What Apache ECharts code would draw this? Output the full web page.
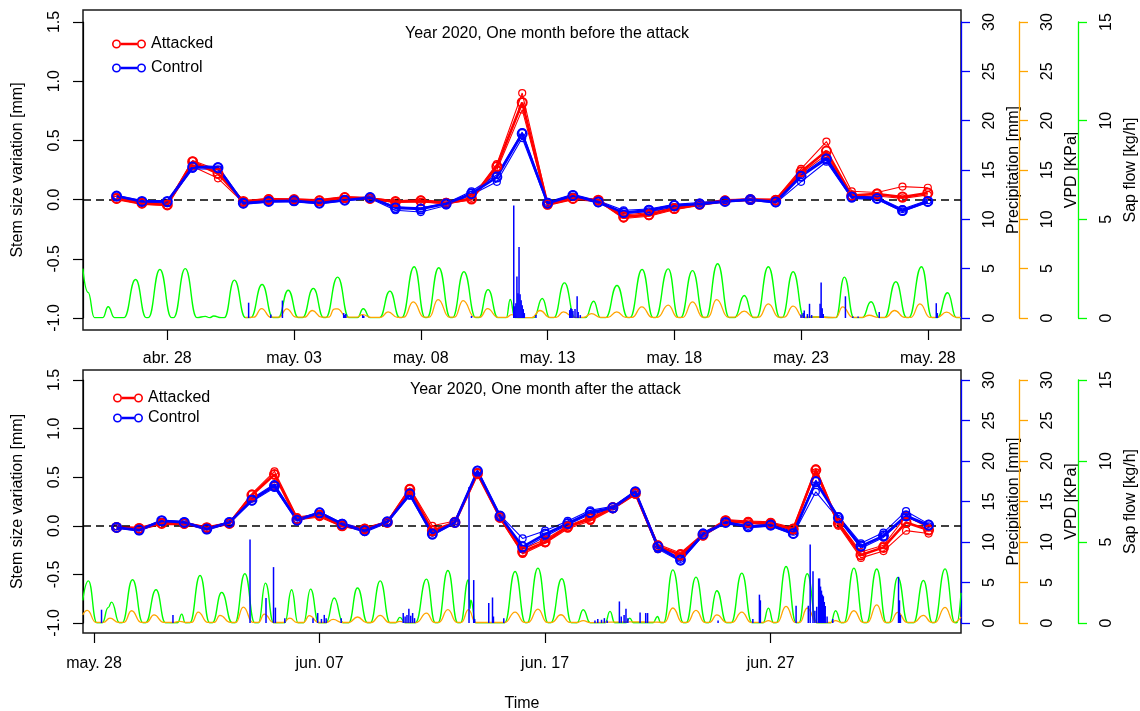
<!DOCTYPE html>
<html><head><meta charset="utf-8">
<script src="https://cdn.jsdelivr.net/npm/echarts@6/dist/echarts.min.js"></script>
<style>html,body{margin:0;padding:0;background:#fff}#c{width:1140px;height:711px}</style>
</head><body><div id="c"></div><script>
// ---------- DATA: top panel (one month before the attack) ----------
const topDates = ['2020-04-26','2020-04-27','2020-04-28','2020-04-29','2020-04-30','2020-05-01','2020-05-02','2020-05-03','2020-05-04','2020-05-05','2020-05-06','2020-05-07','2020-05-08','2020-05-09','2020-05-10','2020-05-11','2020-05-12','2020-05-13','2020-05-14','2020-05-15','2020-05-16','2020-05-17','2020-05-18','2020-05-19','2020-05-20','2020-05-21','2020-05-22','2020-05-23','2020-05-24','2020-05-25','2020-05-26','2020-05-27','2020-05-28'];
const topAttacked   = [0.01,-0.03,-0.045,0.32,0.22,-0.015,0.0,0.0,-0.01,0.017,0.01,-0.017,-0.01,-0.03,0.005,0.28,0.82,-0.04,0.01,-0.005,-0.146,-0.127,-0.076,-0.04,-0.01,0.0,-0.005,0.236,0.41,0.034,0.048,0.022,0.056];
const topAttackedHi = [0.02,-0.02,-0.03,0.33,0.25,-0.01,0.01,0.005,0.0,0.025,0.015,-0.01,0.0,-0.02,0.015,0.30,0.90,-0.03,0.02,0.0,-0.13,-0.11,-0.065,-0.03,0.0,0.005,0.005,0.26,0.49,0.07,0.06,0.11,0.10];
const topAttackedLo = [0.0,-0.04,-0.05,0.28,0.18,-0.025,-0.01,-0.01,-0.02,0.005,0.0,-0.025,-0.02,-0.035,0.0,0.25,0.76,-0.05,0.0,-0.015,-0.16,-0.14,-0.085,-0.05,-0.02,-0.005,-0.015,0.22,0.38,0.02,0.03,0.01,0.04];
const topControl    = [0.03,-0.015,-0.015,0.275,0.27,-0.03,-0.015,-0.01,-0.03,-0.005,0.017,-0.07,-0.08,-0.035,0.05,0.19,0.557,-0.03,0.035,-0.02,-0.11,-0.09,-0.05,-0.037,-0.015,0.0,-0.02,0.197,0.343,0.022,0.01,-0.093,-0.015];
const topControlHi  = [0.035,-0.01,-0.01,0.29,0.28,-0.02,-0.005,0.0,-0.02,0.005,0.025,-0.06,-0.07,-0.03,0.07,0.21,0.57,-0.02,0.045,-0.01,-0.09,-0.08,-0.04,-0.025,-0.005,0.005,-0.01,0.21,0.36,0.03,0.02,-0.08,-0.005];
const topControlLo  = [0.02,-0.025,-0.03,0.26,0.255,-0.04,-0.02,-0.02,-0.035,-0.01,0.01,-0.09,-0.105,-0.05,0.04,0.15,0.52,-0.04,0.025,-0.03,-0.12,-0.10,-0.065,-0.045,-0.02,-0.005,-0.03,0.15,0.32,0.01,0.0,-0.10,-0.025];
const topTickDates  = ['2020-04-28','2020-05-03','2020-05-08','2020-05-13','2020-05-18','2020-05-23','2020-05-28'];
const topTickLabels = ['abr. 28','may. 03','may. 08','may. 13','may. 18','may. 23','may. 28'];
const sapTop = [
["2020-04-24 16:00",2.5],["2020-04-24 21:00",1.3],["2020-04-25 03:00",0.02],
["2020-04-25 11:00",0.02],["2020-04-25 16:00",0.57],["2020-04-25 22:00",0.02],
["2020-04-26 07:00",0.02],["2020-04-26 18:00",1.95],["2020-04-27 04:00",0.02],
["2020-04-27 06:00",0.02],["2020-04-27 17:00",2.46],["2020-04-28 04:00",0.02],
["2020-04-28 06:00",0.02],["2020-04-28 17:00",2.5],["2020-04-29 04:00",0.02],
["2020-04-29 12:00",0.08],["2020-04-29 16:00",0.02],["2020-04-29 20:00",0.1],["2020-04-30 03:00",0.02],
["2020-04-30 06:00",0.02],["2020-04-30 15:30",1.92],["2020-05-01 02:00",0.02],
["2020-05-01 07:00",0.02],["2020-05-01 17:45",1.7],["2020-05-02 04:00",0.02],
["2020-05-02 09:00",0.02],["2020-05-02 18:30",1.41],["2020-05-03 04:00",0.02],
["2020-05-03 08:00",0.02],["2020-05-03 18:15",1.5],["2020-05-04 04:00",0.02],
["2020-05-04 06:00",0.02],["2020-05-04 17:15",2.07],["2020-05-05 04:00",0.02],
["2020-05-05 12:00",0.02],["2020-05-05 17:30",0.47],["2020-05-06 00:00",0.02],
["2020-05-06 09:00",0.02],["2020-05-06 18:45",1.36],["2020-05-07 04:00",0.02],
["2020-05-07 06:00",0.02],["2020-05-07 17:45",2.6],["2020-05-08 04:00",0.02],
["2020-05-08 06:00",0.02],["2020-05-08 17:00",2.55],["2020-05-09 04:00",0.02],
["2020-05-09 06:00",0.02],["2020-05-09 16:50",2.34],["2020-05-10 04:00",0.02],
["2020-05-10 07:00",0.02],["2020-05-10 15:40",1.44],["2020-05-11 01:00",0.02],
["2020-05-11 09:00",0.02],["2020-05-11 12:40",0.94],["2020-05-11 17:00",0.02],
["2020-05-12 11:00",0.02],["2020-05-12 19:00",0.99],["2020-05-13 02:00",0.02],
["2020-05-13 06:00",0.02],["2020-05-13 16:00",1.78],["2020-05-14 02:00",0.02],
["2020-05-14 12:00",0.02],["2020-05-14 19:40",0.85],["2020-05-15 02:00",0.02],
["2020-05-15 07:00",0.02],["2020-05-15 17:45",1.65],["2020-05-16 04:00",0.02],
["2020-05-16 06:00",0.02],["2020-05-16 17:30",2.46],["2020-05-17 04:00",0.02],
["2020-05-17 06:00",0.02],["2020-05-17 18:15",2.49],["2020-05-18 04:00",0.02],
["2020-05-18 06:00",0.02],["2020-05-18 17:15",2.4],["2020-05-19 04:00",0.02],
["2020-05-19 06:00",0.02],["2020-05-19 17:00",2.75],["2020-05-20 04:00",0.02],
["2020-05-20 09:00",0.02],["2020-05-20 18:15",1.14],["2020-05-21 03:00",0.02],
["2020-05-21 06:00",0.02],["2020-05-21 17:00",2.6],["2020-05-22 04:00",0.02],
["2020-05-22 06:00",0.02],["2020-05-22 16:30",2.34],["2020-05-23 03:00",0.02],
["2020-05-23 14:00",0.05],["2020-05-24 06:00",0.02],
["2020-05-24 09:00",0.02],["2020-05-24 17:00",2.07],["2020-05-25 02:00",0.02],
["2020-05-25 10:00",0.02],["2020-05-25 18:15",0.82],["2020-05-26 02:00",0.02],
["2020-05-26 07:00",0.02],["2020-05-26 17:45",1.84],["2020-05-27 04:00",0.02],
["2020-05-27 06:00",0.02],["2020-05-27 18:00",2.6],["2020-05-28 04:00",0.02],
["2020-05-28 09:00",0.02],["2020-05-28 18:45",1.28],["2020-05-29 03:00",0.02],["2020-05-29 07:00",0.02]];
const vpdTop = [
["2020-05-01 02:00",0.05],["2020-05-01 10:00",0.08],["2020-05-01 17:15",0.96],["2020-05-02 02:00",0.08],
["2020-05-02 10:00",0.08],["2020-05-02 17:00",0.93],["2020-05-03 02:00",0.08],
["2020-05-03 10:00",0.08],["2020-05-03 17:15",0.76],["2020-05-04 02:00",0.08],
["2020-05-04 09:00",0.08],["2020-05-04 14:00",0.9],["2020-05-04 17:00",0.93],["2020-05-05 02:00",0.08],
["2020-05-05 11:00",0.08],["2020-05-05 17:00",0.35],["2020-05-06 01:00",0.06],
["2020-05-06 10:00",0.06],["2020-05-06 17:00",0.63],["2020-05-07 02:00",0.06],
["2020-05-07 08:00",0.08],["2020-05-07 16:50",1.64],["2020-05-08 03:00",0.08],
["2020-05-08 08:00",0.08],["2020-05-08 16:20",1.87],["2020-05-09 03:00",0.08],
["2020-05-09 08:00",0.08],["2020-05-09 16:00",1.77],["2020-05-10 03:00",0.08],
["2020-05-10 08:00",0.08],["2020-05-10 15:10",0.96],["2020-05-11 01:00",0.06],
["2020-05-11 09:00",0.06],["2020-05-11 14:00",0.35],["2020-05-11 20:00",0.04],
["2020-05-12 09:00",0.04],["2020-05-12 16:50",0.76],["2020-05-13 02:00",0.06],
["2020-05-13 08:00",0.06],["2020-05-13 15:00",0.63],["2020-05-14 01:00",0.06],
["2020-05-14 10:00",0.06],["2020-05-14 17:45",0.45],["2020-05-15 02:00",0.06],
["2020-05-15 09:00",0.06],["2020-05-15 17:30",0.63],["2020-05-16 02:00",0.06],
["2020-05-16 08:00",0.06],["2020-05-16 17:15",1.13],["2020-05-17 03:00",0.06],
["2020-05-17 08:00",0.06],["2020-05-17 18:15",1.3],["2020-05-18 03:00",0.06],
["2020-05-18 08:00",0.06],["2020-05-18 17:15",1.64],["2020-05-19 03:00",0.08],
["2020-05-19 08:00",0.08],["2020-05-19 16:00",1.87],["2020-05-20 03:00",0.08],
["2020-05-20 09:00",0.08],["2020-05-20 18:15",0.7],["2020-05-21 03:00",0.08],
["2020-05-21 08:00",0.08],["2020-05-21 17:00",1.44],["2020-05-22 03:00",0.08],
["2020-05-22 08:00",0.08],["2020-05-22 16:30",1.2],["2020-05-23 02:00",0.06],
["2020-05-23 14:00",0.1],["2020-05-24 06:00",0.05],
["2020-05-24 09:00",0.06],["2020-05-24 15:20",1.13],["2020-05-25 01:00",0.06],
["2020-05-25 10:00",0.06],["2020-05-25 16:30",0.28],["2020-05-26 01:00",0.06],
["2020-05-26 08:00",0.06],["2020-05-26 16:30",0.76],["2020-05-27 02:00",0.06],
["2020-05-27 08:00",0.06],["2020-05-27 16:30",1.44],["2020-05-28 02:00",0.06],
["2020-05-28 09:00",0.06],["2020-05-28 17:45",0.59],["2020-05-29 03:00",0.06],["2020-05-29 07:00",0.06]];
const precipTop = [["2020-05-01 05:00",1.55],["2020-05-02 02:00",0.35],["2020-05-02 13:00",1.77],["2020-05-04 23:00",0.5],["2020-05-05 00:00",0.3],["2020-05-05 01:00",0.4],["2020-05-05 17:00",0.3],["2020-05-05 18:00",0.2],["2020-05-10 00:00",0.2],["2020-05-11 16:00",11.4],["2020-05-11 17:00",1.2],["2020-05-11 18:00",1.5],["2020-05-11 19:00",4.2],["2020-05-11 20:00",2.5],["2020-05-11 21:00",7.2],["2020-05-11 22:00",2.4],["2020-05-11 23:00",1.8],["2020-05-12 00:00",1.3],["2020-05-12 01:00",0.9],["2020-05-12 02:00",0.5],["2020-05-12 13:00",0.3],["2020-05-13 21:00",0.8],["2020-05-13 22:00",1.0],["2020-05-13 23:00",0.9],["2020-05-14 00:00",0.7],["2020-05-14 02:00",0.9],["2020-05-14 04:00",2.2],["2020-05-14 05:00",0.6],["2020-05-14 07:00",0.3],["2020-05-23 00:00",0.35],["2020-05-23 02:00",0.5],["2020-05-23 03:00",0.75],["2020-05-23 06:00",0.4],["2020-05-23 08:00",1.44],["2020-05-23 10:00",0.3],["2020-05-23 18:00",1.44],["2020-05-23 19:00",3.6],["2020-05-23 20:00",1.0],["2020-05-23 21:00",0.4],["2020-05-24 18:00",2.2],["2020-05-25 01:00",0.15],["2020-05-25 06:00",0.15],["2020-05-26 02:00",0.6],["2020-05-28 08:00",1.5],["2020-05-28 09:00",0.5]];

// ---------- DATA: bottom panel (one month after the attack) ----------
const botDates = ['2020-05-29','2020-05-30','2020-05-31','2020-06-01','2020-06-02','2020-06-03','2020-06-04','2020-06-05','2020-06-06','2020-06-07','2020-06-08','2020-06-09','2020-06-10','2020-06-11','2020-06-12','2020-06-13','2020-06-14','2020-06-15','2020-06-16','2020-06-17','2020-06-18','2020-06-19','2020-06-20','2020-06-21','2020-06-22','2020-06-23','2020-06-24','2020-06-25','2020-06-26','2020-06-27','2020-06-28','2020-06-29','2020-06-30','2020-07-01','2020-07-02','2020-07-03','2020-07-04'];
const botAttacked   = [-0.017,-0.027,0.024,0.024,-0.02,0.024,0.316,0.528,0.069,0.11,0.0,-0.034,0.035,0.374,-0.05,0.035,0.539,0.086,-0.267,-0.165,-0.01,0.069,0.185,0.333,-0.209,-0.3,-0.096,0.052,0.035,0.024,-0.034,0.573,0.024,-0.3,-0.222,0.035,-0.044];
const botAttackedHi = [-0.005,-0.015,0.04,0.035,-0.01,0.035,0.33,0.56,0.09,0.12,0.01,-0.02,0.045,0.39,0.0,0.05,0.55,0.10,-0.24,-0.14,0.0,0.09,0.20,0.35,-0.19,-0.28,-0.08,0.065,0.05,0.04,-0.02,0.59,0.04,-0.27,-0.20,0.10,-0.02];
const botAttackedLo = [-0.025,-0.04,0.015,0.01,-0.03,0.015,0.28,0.41,0.06,0.09,-0.01,-0.045,0.025,0.35,-0.07,0.025,0.52,0.075,-0.29,-0.18,-0.03,0.05,0.17,0.32,-0.24,-0.32,-0.11,0.04,0.025,0.015,-0.045,0.55,0.0,-0.33,-0.26,-0.05,-0.08];
const botControl    = [-0.017,-0.044,0.052,0.035,-0.034,0.035,0.264,0.41,0.058,0.134,0.017,-0.05,0.041,0.326,-0.085,0.035,0.563,0.1,-0.216,-0.085,0.024,0.138,0.185,0.35,-0.216,-0.353,-0.085,0.035,-0.01,0.007,-0.079,0.453,0.082,-0.209,-0.103,0.103,0.007];
const botControlHi  = [-0.005,-0.035,0.06,0.045,-0.025,0.045,0.28,0.43,0.07,0.145,0.03,-0.035,0.05,0.34,-0.07,0.045,0.575,0.11,-0.13,-0.05,0.05,0.16,0.20,0.36,-0.20,-0.34,-0.07,0.045,0.0,0.015,-0.06,0.47,0.10,-0.18,-0.07,0.15,0.02];
const botControlLo  = [-0.025,-0.055,0.04,0.025,-0.045,0.025,0.25,0.39,0.05,0.12,0.005,-0.065,0.03,0.31,-0.10,0.025,0.55,0.09,-0.24,-0.11,0.01,0.12,0.17,0.335,-0.24,-0.365,-0.10,0.025,-0.02,-0.005,-0.09,0.35,0.07,-0.23,-0.12,0.09,-0.005];
const botTickDates  = ['2020-05-28','2020-06-07','2020-06-17','2020-06-27'];
const botTickLabels = ['may. 28','jun. 07','jun. 17','jun. 27'];
const sapBot = [
["2020-05-27 12:00",1.4],["2020-05-27 18:00",2.6],["2020-05-28 03:00",0.02],
["2020-05-28 09:00",0.02],["2020-05-28 15:00",0.95],["2020-05-28 18:40",1.29],["2020-05-29 03:00",0.02],
["2020-05-29 06:00",0.02],["2020-05-29 17:00",2.67],["2020-05-30 04:00",0.02],
["2020-05-30 07:00",0.02],["2020-05-30 18:00",2.05],["2020-05-31 04:00",0.02],
["2020-05-31 17:00",0.02],["2020-05-31 21:20",0.55],["2020-06-01 01:00",0.02],
["2020-06-01 06:00",0.02],["2020-06-01 16:50",2.93],["2020-06-02 03:00",0.02],
["2020-06-02 06:00",0.02],["2020-06-02 15:50",1.89],["2020-06-03 03:00",0.02],
["2020-06-03 06:00",0.02],["2020-06-03 16:30",3.04],["2020-06-04 03:00",0.02],
["2020-06-04 07:00",0.02],["2020-06-04 14:25",2.46],["2020-06-04 23:00",0.02],
["2020-06-05 11:00",0.02],["2020-06-05 18:15",2.05],["2020-06-06 01:00",0.02],
["2020-06-06 07:00",0.02],["2020-06-06 14:25",2.09],["2020-06-06 23:00",0.02],
["2020-06-07 07:00",0.02],["2020-06-07 15:35",1.54],["2020-06-08 01:00",0.02],
["2020-06-08 07:00",0.02],["2020-06-08 16:20",2.16],["2020-06-09 03:00",0.02],
["2020-06-09 06:00",0.02],["2020-06-09 16:30",2.6],["2020-06-10 03:00",0.02],
["2020-06-10 09:00",0.02],["2020-06-10 13:25",0.35],["2020-06-10 19:00",0.02],
["2020-06-11 06:00",0.02],["2020-06-11 17:45",2.71],["2020-06-12 03:00",0.02],
["2020-06-12 06:00",0.02],["2020-06-12 16:30",3.24],["2020-06-13 03:00",0.02],
["2020-06-13 06:00",0.02],["2020-06-13 14:25",2.67],["2020-06-13 16:00",0.9],["2020-06-13 17:00",1.4],["2020-06-13 22:00",0.02],
["2020-06-15 05:00",0.02],["2020-06-15 16:00",3.18],["2020-06-16 03:00",0.02],
["2020-06-16 05:00",0.02],["2020-06-16 16:20",3.39],["2020-06-17 03:00",0.02],
["2020-06-17 06:00",0.02],["2020-06-17 17:45",2.73],["2020-06-18 04:00",0.02],
["2020-06-18 10:00",0.02],["2020-06-18 16:30",0.82],["2020-06-19 00:00",0.02],
["2020-06-19 16:00",0.02],["2020-06-19 21:00",0.72],["2020-06-20 02:00",0.02],
["2020-06-20 14:00",0.02],["2020-06-20 18:00",0.3],["2020-06-20 22:00",0.02],
["2020-06-21 19:00",0.02],["2020-06-21 23:30",0.4],["2020-06-22 03:00",0.02],
["2020-06-22 06:00",0.02],["2020-06-22 15:50",3.28],["2020-06-23 03:00",0.02],
["2020-06-23 06:00",0.02],["2020-06-23 16:30",2.83],["2020-06-24 03:00",0.02],
["2020-06-24 06:00",0.02],["2020-06-24 14:40",1.99],["2020-06-25 01:00",0.02],
["2020-06-25 06:00",0.02],["2020-06-25 17:15",3.08],["2020-06-26 04:00",0.02],
["2020-06-26 16:00",0.02],["2020-06-26 21:35",0.92],["2020-06-27 03:00",0.02],
["2020-06-27 06:00",0.02],["2020-06-27 16:20",3.49],["2020-06-28 03:00",0.02],
["2020-06-28 06:00",0.02],["2020-06-28 14:50",3.04],["2020-06-29 01:00",0.02],
["2020-06-29 16:00",0.02],["2020-06-29 21:00",0.76],["2020-06-30 03:00",0.02],
["2020-06-30 06:00",0.02],["2020-06-30 16:30",3.39],["2020-07-01 03:00",0.02],
["2020-07-01 06:00",0.02],["2020-07-01 16:50",3.33],["2020-07-02 03:00",0.02],
["2020-07-02 06:00",0.02],["2020-07-02 15:10",2.81],["2020-07-03 02:00",0.02],
["2020-07-03 08:00",0.02],["2020-07-03 18:30",2.62],["2020-07-04 04:00",0.02],
["2020-07-04 06:00",0.02],["2020-07-04 17:30",3.34],["2020-07-05 04:00",0.02],
["2020-07-05 06:00",0.02],["2020-07-05 10:30",1.86]];
const vpdBot = [
["2020-05-27 12:00",1.0],["2020-05-27 16:50",1.55],["2020-05-28 02:00",0.08],
["2020-05-28 10:00",0.08],["2020-05-28 17:00",0.6],["2020-05-29 02:00",0.08],
["2020-05-29 08:00",0.08],["2020-05-29 16:00",1.51],["2020-05-30 02:00",0.08],
["2020-05-30 08:00",0.08],["2020-05-30 15:50",1.0],["2020-05-31 02:00",0.08],
["2020-05-31 12:00",0.06],["2020-05-31 19:25",0.2],["2020-06-01 02:00",0.06],
["2020-06-01 08:00",0.08],["2020-06-01 14:50",1.35],["2020-06-02 01:00",0.08],
["2020-06-02 08:00",0.08],["2020-06-02 14:00",0.94],["2020-06-03 01:00",0.08],
["2020-06-03 07:00",0.08],["2020-06-03 14:50",1.97],["2020-06-04 01:00",0.08],
["2020-06-04 07:00",0.08],["2020-06-04 13:10",1.1],["2020-06-04 23:00",0.06],
["2020-06-05 09:00",0.06],["2020-06-05 16:20",0.6],["2020-06-06 00:00",0.06],
["2020-06-06 07:00",0.06],["2020-06-06 13:00",0.9],["2020-06-06 23:00",0.06],
["2020-06-07 07:00",0.06],["2020-06-07 14:25",0.45],["2020-06-08 00:00",0.06],
["2020-06-08 07:00",0.06],["2020-06-08 16:20",0.74],["2020-06-09 02:00",0.06],
["2020-06-09 07:00",0.06],["2020-06-09 16:30",0.94],["2020-06-10 02:00",0.06],
["2020-06-10 08:00",0.06],["2020-06-10 13:30",0.2],["2020-06-10 20:00",0.05],
["2020-06-11 07:00",0.06],["2020-06-11 17:45",1.23],["2020-06-12 02:00",0.08],
["2020-06-12 07:00",0.08],["2020-06-12 16:30",1.64],["2020-06-13 02:00",0.08],
["2020-06-13 07:00",0.08],["2020-06-13 14:25",1.64],["2020-06-13 22:00",0.06],
["2020-06-15 05:00",0.06],["2020-06-15 16:00",1.35],["2020-06-16 02:00",0.08],
["2020-06-16 06:00",0.08],["2020-06-16 16:20",1.72],["2020-06-17 02:00",0.08],
["2020-06-17 07:00",0.08],["2020-06-17 16:50",1.02],["2020-06-18 02:00",0.08],
["2020-06-18 10:00",0.06],["2020-06-18 16:30",0.3],["2020-06-19 00:00",0.05],
["2020-06-20 18:00",0.15],["2020-06-21 23:00",0.1],
["2020-06-22 07:00",0.08],["2020-06-22 15:50",1.85],["2020-06-23 02:00",0.08],
["2020-06-23 07:00",0.08],["2020-06-23 16:30",1.55],["2020-06-24 02:00",0.08],
["2020-06-24 07:00",0.08],["2020-06-24 14:40",1.0],["2020-06-25 01:00",0.08],
["2020-06-25 07:00",0.08],["2020-06-25 17:15",1.35],["2020-06-26 03:00",0.08],
["2020-06-26 16:00",0.06],["2020-06-26 21:35",0.3],["2020-06-27 03:00",0.06],
["2020-06-27 07:00",0.08],["2020-06-27 16:20",2.05],["2020-06-28 02:00",0.08],
["2020-06-28 07:00",0.08],["2020-06-28 14:50",1.85],["2020-06-29 01:00",0.06],
["2020-06-29 16:00",0.06],["2020-06-29 21:00",0.3],["2020-06-30 03:00",0.06],
["2020-06-30 07:00",0.08],["2020-06-30 16:30",1.51],["2020-07-01 02:00",0.08],
["2020-07-01 07:00",0.08],["2020-07-01 16:50",2.25],["2020-07-02 02:00",0.08],
["2020-07-02 07:00",0.08],["2020-07-02 15:10",1.31],["2020-07-03 01:00",0.08],
["2020-07-03 08:00",0.08],["2020-07-03 18:30",0.94],["2020-07-04 03:00",0.08],
["2020-07-04 07:00",0.08],["2020-07-04 17:30",1.92],["2020-07-05 03:00",0.08],
["2020-07-05 10:30",0.74]];
const precipBot = [["2020-05-28 08:00",1.64],["2020-05-31 12:00",1.0],["2020-06-03 22:00",10.3],["2020-06-04 15:00",3.1],["2020-06-04 23:00",6.9],["2020-06-05 01:00",1.9],["2020-06-05 11:00",0.6],["2020-06-06 17:00",0.6],["2020-06-06 22:00",1.23],["2020-06-07 02:00",0.5],["2020-06-07 05:00",1.0],["2020-06-07 07:00",0.6],["2020-06-07 23:00",0.6],["2020-06-10 17:00",1.23],["2020-06-10 19:00",0.8],["2020-06-10 21:00",1.0],["2020-06-10 23:00",1.75],["2020-06-11 01:00",0.9],["2020-06-11 03:00",1.23],["2020-06-11 05:00",0.6],["2020-06-13 15:00",16.8],["2020-06-13 20:00",5.3],["2020-06-13 21:00",0.5],["2020-06-14 12:00",2.46],["2020-06-14 16:00",3.15],["2020-06-14 17:00",0.8],["2020-06-15 04:00",0.6],["2020-06-19 05:00",0.3],["2020-06-19 08:00",0.5],["2020-06-19 12:00",0.4],["2020-06-19 15:00",0.6],["2020-06-19 18:00",0.3],["2020-06-20 07:00",2.66],["2020-06-20 09:00",0.8],["2020-06-20 12:00",1.0],["2020-06-20 14:00",1.76],["2020-06-20 16:00",0.6],["2020-06-21 05:00",1.3],["2020-06-21 11:00",1.23],["2020-06-21 13:00",1.23],["2020-06-24 16:00",0.3],["2020-06-26 05:00",0.5],["2020-06-26 12:00",3.5],["2020-06-26 13:00",2.8],["2020-06-28 03:00",2.13],["2020-06-28 16:00",2.13],["2020-06-28 18:00",9.7],["2020-06-28 21:00",6.4],["2020-06-28 23:00",1.5],["2020-06-29 01:00",2.0],["2020-06-29 03:00",5.5],["2020-06-29 04:00",5.5],["2020-06-29 05:00",4.5],["2020-06-29 06:00",4.0],["2020-06-29 07:00",3.5],["2020-06-29 08:00",3.3],["2020-06-29 09:00",2.6],["2020-06-29 10:00",2.1],["2020-06-29 12:00",0.8],["2020-06-29 18:00",0.5],["2020-07-02 16:00",5.7],["2020-07-02 17:00",2.8],["2020-07-02 18:00",1.0]];

// ---------- helpers ----------
function T(s){ if(s.length===10) s+=' 00:00'; return Date.UTC(+s.slice(0,4), +s.slice(5,7)-1, +s.slice(8,10), +s.slice(11,13), +s.slice(14,16)); }
const tv = arr => arr.map(d => [T(d[0]), d[1]]);
const zipDates = (dates, vals) => dates.map((d,i) => [T(d), vals[i]]);
const FONT = '"Liberation Sans", Arimo, Arial, sans-serif';
const RED = '#FF0000', BLUE = '#0000FF', ORANGE = '#FFA500', GREEN = '#00FF00';
function legendIcon(w){
  const a = w - 9;
  return 'path://M0,5A4.5,4.5 0 1,0 9,5A4.5,4.5 0 1,0 0,5Z M1.6,5A2.9,2.9 0 1,1 7.4,5A2.9,2.9 0 1,1 1.6,5Z ' +
    'M9,3.8L' + a + ',3.8L' + a + ',6.2L9,6.2Z ' +
    'M' + a + ',5A4.5,4.5 0 1,0 ' + w + ',5A4.5,4.5 0 1,0 ' + a + ',5Z M' + (a+1.6) + ',5A2.9,2.9 0 1,1 ' + (w-1.6) + ',5A2.9,2.9 0 1,1 ' + (a+1.6) + ',5Z';
}

const panels = [
  {boxTop:10, boxH:320, dataTop:22, dataH:296, xmin:'2020-04-24 16:12', xmax:'2020-05-29 07:25',
   ticks:topTickDates, labels:topTickLabels, labelMargin:21, title:'Year 2020, One month before the attack', titleLeft:405, titleTop:26,
   legendLeft:112, legendTop:36, legendGap:8, legendW:34,
   dates:topDates, att:[topAttacked, topAttackedHi, topAttackedLo], ctl:[topControl, topControlHi, topControlLo],
   sap:sapTop, vpd:vpdTop, pr:precipTop, xName:''},
  {boxTop:370, boxH:263, dataTop:380, dataH:243, xmin:'2020-05-27 12:17', xmax:'2020-07-05 10:28',
   ticks:botTickDates, labels:botTickLabels, labelMargin:23, title:'Year 2020, One month after the attack', titleLeft:410, titleTop:382,
   legendLeft:113, legendTop:390, legendGap:4, legendW:30,
   dates:botDates, att:[botAttacked, botAttackedHi, botAttackedLo], ctl:[botControl, botControlHi, botControlLo],
   sap:sapBot, vpd:vpdBot, pr:precipBot, xName:'Time'}
];

const option = {animation:false, backgroundColor:'#fff', textStyle:{fontFamily:FONT},
  title:[], legend:[], grid:[], xAxis:[], yAxis:[], series:[]};

function rightAxis(grid, offset, color, max, interval, name, nameGap){
  return {type:'value', gridIndex:grid, position:'right', offset:offset, min:0, max:max, interval:interval,
    axisLine:{show:true, lineStyle:{color:color, width:1.3}},
    axisTick:{show:true, length:9, lineStyle:{color:color, width:1.3}},
    axisLabel:{rotate:90, margin:21, fontSize:16, color:'#000', fontFamily:FONT},
    splitLine:{show:false},
    name:name, nameLocation:'middle', nameRotate:90, nameGap:nameGap,
    nameTextStyle:{fontSize:16, color:'#000', fontFamily:FONT}};
}

panels.forEach(p => {
  const g = option.grid.length;
  option.grid.push({left:83, width:878, top:p.boxTop, height:p.boxH, show:true, borderColor:'#1a1a1a', borderWidth:1.5,
    backgroundColor:'transparent', containLabel:false, outerBoundsMode:'none'});
  option.grid.push({left:83, width:878, top:p.dataTop, height:p.dataH, containLabel:false, outerBoundsMode:'none'});
  const xmin = T(p.xmin), xmax = T(p.xmax);
  const tickVals = p.ticks.map(T);
  const xi = option.xAxis.length;
  option.xAxis.push({type:'value', gridIndex:g, min:xmin, max:xmax,
    axisLine:{show:false}, splitLine:{show:false},
    axisTick:{show:true, length:10, customValues:tickVals, lineStyle:{color:'#000', width:1.2}},
    axisLabel:{show:true, customValues:tickVals, margin:p.labelMargin, fontSize:16, color:'#000', fontFamily:FONT,
      formatter:(v)=>{ const k = tickVals.findIndex(t => Math.abs(t - v) < 60000); return k >= 0 ? p.labels[k] : ''; }},
    name:p.xName, nameLocation:'middle', nameGap:63, nameTextStyle:{fontSize:16, color:'#000', fontFamily:FONT}});
  option.xAxis.push({type:'value', gridIndex:g+1, min:xmin, max:xmax, show:false});
  const yi = option.yAxis.length;
  option.yAxis.push({type:'value', gridIndex:g, min:0, max:1, show:false});
  option.yAxis.push({type:'value', gridIndex:g+1, position:'left', min:-1, max:1.5, interval:0.5,
    axisLine:{show:true, lineStyle:{color:'#000', width:1.2}},
    axisTick:{show:true, length:10, lineStyle:{color:'#000', width:1.2}},
    axisLabel:{rotate:90, margin:20, fontSize:16, color:'#000', fontFamily:FONT, formatter:v => v.toFixed(1)},
    splitLine:{show:false},
    name:'Stem size variation [mm]', nameLocation:'middle', nameRotate:90, nameGap:57,
    nameTextStyle:{fontSize:16, color:'#000', fontFamily:FONT}});
  option.yAxis.push(rightAxis(g+1, 0, BLUE, 30, 5, 'Precipitation [mm]', 43));
  option.yAxis.push(rightAxis(g+1, 58, ORANGE, 30, 5, 'VPD [KPa]', 41));
  option.yAxis.push(rightAxis(g+1, 117, GREEN, 15, 5, 'Sap flow [kg/h]', 41));
  const xd = xi + 1, yStem = yi + 1, yPr = yi + 2, yVpd = yi + 3, ySap = yi + 4;

  option.series.push({type:'line', name:'Sap flow', xAxisIndex:xd, yAxisIndex:ySap, data:tv(p.sap),
    smooth:0.5, smoothMonotone:'x', symbol:'none', silent:true, lineStyle:{color:GREEN, width:1.4}, z:2});
  option.series.push({type:'line', name:'VPD', xAxisIndex:xd, yAxisIndex:yVpd, data:tv(p.vpd),
    smooth:0.5, smoothMonotone:'x', symbol:'none', silent:true, lineStyle:{color:ORANGE, width:1.3}, z:2});
  option.series.push({type:'bar', name:'Precipitation', xAxisIndex:xd, yAxisIndex:yPr, data:tv(p.pr),
    barWidth:1.5, silent:true, itemStyle:{color:BLUE}, z:3});

  const groups = [[p.att, RED, 'Attacked'], [p.ctl, BLUE, 'Control']];
  let first = true;
  groups.forEach(([vals, color, name]) => {
    [1, 2].forEach(k => {
      const s = {type:'line', name:name + ' tree ' + k, xAxisIndex:xd, yAxisIndex:yStem, data:zipDates(p.dates, vals[k]),
        symbol:'circle', symbolSize:7, silent:true,
        itemStyle:{color:'rgba(255,255,255,0)', borderColor:color, borderWidth:1.2},
        lineStyle:{color:color, width:1.1}, z:4};
      if (first) {
        s.markLine = {silent:true, symbol:'none', label:{show:false},
          lineStyle:{color:'#000', type:[8,5], width:1.5}, data:[{yAxis:0}]};
        first = false;
      }
      option.series.push(s);
    });
  });
  groups.forEach(([vals, color, name]) => {
    option.series.push({type:'line', name:name, xAxisIndex:xd, yAxisIndex:yStem, data:zipDates(p.dates, vals[0]),
      symbol:'circle', symbolSize:9, silent:true,
      itemStyle:{color:'rgba(255,255,255,0)', borderColor:color, borderWidth:2},
      lineStyle:{color:color, width:2.6}, z:5});
  });

  option.title.push({text:p.title, left:p.titleLeft, top:p.titleTop, padding:0,
    textStyle:{fontSize:16, fontWeight:'normal', color:'#000', fontFamily:FONT}});
  option.legend.push({orient:'vertical', left:p.legendLeft, top:p.legendTop, padding:0, itemGap:p.legendGap,
    itemWidth:p.legendW, itemHeight:10, selectedMode:false,
    textStyle:{fontSize:16, color:'#000', fontFamily:FONT},
    data:[{name:'Attacked', icon:legendIcon(p.legendW), itemStyle:{color:RED, borderWidth:0}},
          {name:'Control', icon:legendIcon(p.legendW), itemStyle:{color:BLUE, borderWidth:0}}]});
});

const chart = echarts.init(document.getElementById('c'), null, {renderer:'canvas'});
chart.setOption(option);
</script></body></html>
